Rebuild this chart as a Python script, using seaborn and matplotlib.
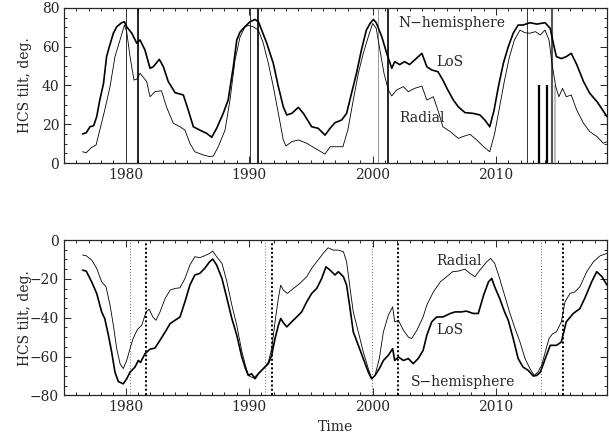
import numpy as np
import pandas as pd
import matplotlib
matplotlib.use("Agg")
import matplotlib.pyplot as plt
from matplotlib.ticker import MultipleLocator
import seaborn as sns

# ---------------- data ----------------
n_los_t = [1976.5, 1976.8, 1977.1, 1977.4, 1977.65, 1977.9, 1978.2, 1978.45, 1978.67, 1979.0, 1979.27,
           1979.67, 1979.9, 1980.08, 1980.49, 1980.9, 1981.16, 1981.56, 1981.97, 1982.24, 1982.72, 1983.05,
           1983.45, 1984.0, 1984.67, 1985.07, 1985.48, 1986.0, 1986.56, 1986.97, 1987.37, 1987.9, 1988.3,
           1988.72, 1989.0, 1989.26, 1989.53, 1989.8, 1990.07, 1990.48, 1990.75, 1991.02, 1991.43, 1991.96,
           1992.37, 1992.77, 1993.05, 1993.45, 1993.99, 1994.4, 1995.07, 1995.6, 1996.15, 1996.56, 1996.96,
           1997.5, 1997.9, 1998.3, 1998.7, 1999.1, 1999.5, 1999.8, 2000.07, 2000.3, 2000.75, 2001.15,
           2001.56, 2001.8, 2002.2, 2002.6, 2003.0, 2003.4, 2004.0, 2004.4, 2004.8, 2005.3, 2005.7, 2006.1,
           2006.55, 2006.95, 2007.5, 2008.17, 2008.7, 2009.1, 2009.5, 2009.85, 2010.2, 2010.6, 2011.0,
           2011.4, 2011.8, 2012.2, 2012.76, 2013.3, 2013.98, 2014.4, 2014.65, 2014.9, 2015.3, 2015.7,
           2016.1, 2016.55, 2017.1, 2017.6, 2018.2, 2018.65, 2019.0]
n_los_v = [15.0, 15.6, 18.7, 19.2, 23.9, 32.5, 41, 54.9, 60, 67, 70.3,
           72.4, 72.9, 70.3, 67, 61.8, 63.5, 58.3, 48.9, 49.7, 53.5, 49.7,
           42, 36.3, 35.1, 27.3, 18.7, 17, 15.3, 13.3, 17.9, 25.6, 32.5,
           49.7, 63.5, 67.5, 69.5, 71.2, 72.9, 74.1, 72.9, 68.6, 61.8, 51.4,
           39.4, 29, 24.8, 25.6, 28.7, 25.6, 18.7, 17.9, 14.4, 17.9, 20.8,
           22.2, 25.6, 36, 46.3, 58.3, 68.6, 72, 74.1, 72.4, 65.2, 56.6,
           48.9, 52.3, 50.8, 52.3, 50.8, 53.1, 56.6, 49.7, 48, 47.1, 42.8, 37.7,
           32.5, 29, 26, 25.6, 24.8, 22.2, 18.7, 27.3, 39.4, 51.4, 60,
           67, 71.2, 71.2, 72.4, 71.7, 72.4, 69.5, 61.8, 54.9, 53.9, 54.9,
           56.6, 50.8, 42, 36, 31.6, 27.3, 23.9]

n_rad_t = [1976.5, 1976.8, 1977.24, 1977.6, 1977.9, 1978.3, 1978.73, 1979.13, 1979.54, 1979.9, 1980.08,
           1980.35, 1980.67, 1980.9, 1981.16, 1981.7, 1981.97, 1982.37, 1982.9, 1983.3, 1983.86, 1984.4,
           1984.8, 1985.2, 1985.6, 1986.3, 1986.8, 1987.1, 1987.5, 1988.05, 1988.45, 1988.86, 1989.26,
           1989.67, 1989.94, 1990.34, 1990.75, 1991.15, 1991.56, 1991.96, 1992.37, 1992.77, 1992.99,
           1993.45, 1993.99, 1994.67, 1995.34, 1996.15, 1996.56, 1997.1, 1997.6, 1998.0, 1998.44, 1998.85,
           1999.25, 1999.66, 2000.01, 2000.3, 2000.6, 2000.93, 2001.28, 2001.56, 2001.96, 2002.5, 2002.9,
           2003.4, 2004.0, 2004.4, 2004.93, 2005.3, 2005.7, 2006.3, 2006.95, 2007.3, 2007.9, 2008.45,
           2009.0, 2009.5, 2009.9, 2010.3, 2010.7, 2011.1, 2011.5, 2011.95, 2012.36, 2012.76, 2013.2,
           2013.6, 2013.98, 2014.3, 2014.58, 2014.85, 2015.1, 2015.4, 2015.7, 2016.1, 2016.55, 2017.1,
           2017.6, 2018.2, 2018.7, 2019.0]
n_rad_v = [5.8, 5.3, 8.1, 9.3, 17, 27.3, 39.4, 54.9, 63.5, 71.2, 67.8,
           54.9, 42.8, 43.3, 46.3, 42, 34.2, 36.8, 37.3, 29, 20.5, 18.7,
           17, 10.2, 5.8, 4.1, 3.3, 3.6, 8.4, 17, 32.5, 53.1, 65,
           70.3, 71, 70.3, 68.6, 61.8, 51.4, 39.4, 25.6, 11.9, 8.8,
           11, 11.9, 10.2, 7.6, 4.6, 8.4, 8.4, 8.4, 17, 32.5, 46.3,
           56.6, 65.2, 72, 69.5, 58.3, 46.3, 37.7, 34.6, 37.7, 39.4, 36.8,
           38.5, 39.7, 32.5, 34.2, 27.3, 18.7, 16.2, 12.7, 13.6, 14.8, 11.9,
           8.4, 5.8, 15.3, 29, 42.8, 54.9, 63.5, 68.6, 67.2, 67, 67.8,
           66.1, 68.6, 63.5, 49.7, 39.4, 34.2, 38.5, 34.2, 35.1, 27.3, 20.5,
           16.2, 13.6, 10.2, 11]

s_los_t = [1976.5, 1976.8, 1977.24, 1977.65, 1978.05, 1978.3, 1978.6, 1978.86, 1979.13, 1979.4, 1979.8,
           1980.08, 1980.35, 1980.75, 1981.02, 1981.2, 1981.56, 1981.97, 1982.37, 1982.78, 1983.2, 1983.6,
           1984.0, 1984.4, 1984.8, 1985.2, 1985.6, 1986.0, 1986.4, 1986.8, 1987.05, 1987.37, 1987.8,
           1988.2, 1988.6, 1989.0, 1989.4, 1989.7, 1989.94, 1990.2, 1990.48, 1990.75, 1991.15, 1991.56,
           1991.83, 1992.1, 1992.37, 1992.56, 1992.77, 1993.05, 1993.45, 1993.86, 1994.26, 1994.67,
           1995.07, 1995.48, 1995.88, 1996.23, 1996.56, 1996.96, 1997.23, 1997.64, 1997.9, 1998.18,
           1998.44, 1998.85, 1999.25, 1999.66, 1999.93, 2000.2, 2000.55, 2000.88, 2001.28, 2001.63,
           2001.8, 2002.1, 2002.5, 2002.9, 2003.3, 2003.7, 2004.1, 2004.4, 2004.8, 2005.2, 2005.7,
           2006.3, 2006.7, 2007.2, 2007.6, 2008.17, 2008.57, 2009.0, 2009.4, 2009.66, 2009.9, 2010.3,
           2010.7, 2011.0, 2011.4, 2011.8, 2012.2, 2012.6, 2013.03, 2013.3, 2013.6, 2014.0, 2014.4,
           2014.9, 2015.3, 2015.7, 2016.27, 2016.8, 2017.2, 2017.76, 2018.17, 2018.6, 2019.0]
s_los_v = [-15.5, -16, -21.5, -27.5, -37, -40.4, -49, -57.6, -68, -72.8, -74,
           -71.4, -68, -65.4, -62, -63, -58.5, -56.2, -55.6, -51.6, -47.3, -43,
           -41.3, -39.6, -31.8, -23.2, -18, -17.2, -14.6, -11.2, -9.8, -12.9, -19.8,
           -30, -40.4, -49, -60, -66, -69.7, -68.8, -71.4, -68.8, -66.2, -63.6,
           -59.3, -50.7, -43.9, -40.4, -42.5, -44.7, -42.1, -39.6, -37, -31.8,
           -27.5, -24.9, -19.8, -13.8, -15.5, -18, -16.3, -18.9, -23.2, -35.3,
           -47.3, -54.2, -61, -68, -71.4, -69.7, -66.2, -62, -59.3, -55.9,
           -62, -60.2, -62, -61, -63.6, -61, -56.8, -49, -42.1, -39.6, -39.6,
           -37.8, -37, -37, -36.6, -37.8, -37.8, -28.4, -21.5, -19.8, -24.1, -30,
           -37, -41.3, -50.7, -61, -65.4, -67, -70, -69.7, -68, -61, -54.2,
           -54.2, -52.5, -42.1, -37.8, -35.3, -30, -21.5, -16.3, -18.9, -23.2]

s_rad_t = [1976.5, 1976.8, 1977.24, 1977.65, 1978.05, 1978.4, 1978.73, 1979.0, 1979.27, 1979.54, 1979.8,
           1980.08, 1980.35, 1980.6, 1980.94, 1981.3, 1981.65, 1981.9, 1982.2, 1982.45, 1982.78, 1983.2,
           1983.6, 1984.0, 1984.4, 1984.8, 1985.2, 1985.6, 1986.0, 1986.4, 1986.8, 1987.05, 1987.37,
           1987.8, 1988.2, 1988.6, 1989.0, 1989.4, 1989.7, 1989.94, 1990.34, 1990.75, 1991.15, 1991.56,
           1991.83, 1992.1, 1992.37, 1992.56, 1992.77, 1993.1, 1993.6, 1994.1, 1994.67, 1995.07, 1995.48,
           1996.0, 1996.4, 1996.8, 1997.23, 1997.64, 1997.9, 1998.18, 1998.44, 1998.85, 1999.25, 1999.66,
           1999.93, 2000.2, 2000.55, 2000.88, 2001.28, 2001.63, 2001.8, 2002.1, 2002.5, 2002.9, 2003.17,
           2003.6, 2004.1, 2004.4, 2004.93, 2005.5, 2006.0, 2006.5, 2006.95, 2007.5, 2007.9, 2008.3,
           2008.7, 2009.25, 2009.57, 2009.9, 2010.3, 2010.7, 2011.1, 2011.5, 2011.95, 2012.36, 2012.76,
           2013.1, 2013.4, 2013.7, 2014.0, 2014.3, 2014.6, 2014.9, 2015.3, 2015.6, 2016.0, 2016.4,
           2016.8, 2017.36, 2017.9, 2018.45, 2019.0]
s_rad_v = [-7.7, -8.1, -10.3, -14.6, -21.5, -24, -33.5, -43.9, -55.9, -63.6, -66.2,
           -62, -55.9, -50.7, -46.1, -43.9, -37, -35.6, -39.6, -41.3, -37, -30,
           -25.8, -24.9, -24.6, -19.8, -12.9, -8.6, -9.1, -8.1, -6.9, -5.7, -8.6,
           -12, -21.5, -33.5, -43.9, -57, -64.5, -69.7, -71, -68.8, -66.2, -62.8,
           -55.9, -42.1, -30, -23.2, -25.8, -27.5, -24.9, -22.4, -18.9, -14.6, -11.2,
           -6.9, -4, -5.2, -5.2, -6, -11.2, -24.9, -37, -47.3, -57.6, -66.2,
           -71.4, -69.7, -61, -47.3, -38.7, -34.4, -42.1, -41.3, -46.4, -49.9, -50.7,
           -46.4, -39.6, -33.5, -26.7, -21.5, -18.9, -16.3, -16, -15, -17.2, -18.9,
           -15.5, -11.2, -9.5, -12, -19.8, -28.4, -37, -44.7, -52.5, -61, -66.2,
           -69.7, -68, -64.5, -57.6, -50.7, -48.2, -47.3, -42.1, -31.8, -27.5, -26.7,
           -24.1, -16.3, -11.2, -8.1, -6.9]

# vertical markers (years)
n_thin_black = [1980.0, 1990.1, 2012.55]
n_thin_grey = [2000.47]
n_thick_black = [1981.02, 1990.75, 2001.28]
n_thick_grey = [2014.55]
n_short_black = [2013.52, 2014.14]
n_short_grey = [2014.77]
n_short_top = 40

s_thin_dotted = [1980.32, 1991.29, 1999.93, 2013.65]
s_thick_dotted = [1981.65, 1991.88, 2002.04, 2015.44]

x_ticks = [1980, 1990, 2000, 2010]
n_yticks = [0, 20, 40, 60, 80]
s_yticks = [-80, -60, -40, -20, 0]

# ---------------- plotting ----------------
sns.set_style("ticks")
plt.rcParams['font.family'] = ['DejaVu Serif']
plt.rcParams['font.size'] = 9

fig = plt.figure(figsize=(6.09, 4.37), dpi=100)
ax1 = fig.add_axes([0.1051, 0.627, 0.8916, 0.3547])
ax2 = fig.add_axes([0.1051, 0.0950, 0.8916, 0.3558])

df_nl = pd.DataFrame({"t": n_los_t, "v": n_los_v})
df_nr = pd.DataFrame({"t": n_rad_t, "v": n_rad_v})
df_sl = pd.DataFrame({"t": s_los_t, "v": s_los_v})
df_sr = pd.DataFrame({"t": s_rad_t, "v": s_rad_v})

LW_THICK = 1.2
LW_THIN = 0.6

# North
for x in n_thin_black:
    ax1.axvline(x, color="#333333", lw=0.7, zorder=1)
for x in n_thin_grey:
    ax1.axvline(x, color="#999999", lw=0.7, zorder=1)
for x in n_thick_black:
    ax1.axvline(x, color="black", lw=1.2, zorder=1)
for x in n_thick_grey:
    ax1.axvline(x, color="#555555", lw=1.5, zorder=1)
ax1.vlines(n_short_black, 0, n_short_top, color="black", lw=1.6, zorder=1)
ax1.vlines(n_short_grey, 0, n_short_top, color="#aaaaaa", lw=1.1, zorder=1)

sns.lineplot(data=df_nl, x="t", y="v", ax=ax1, color="black", lw=LW_THICK, estimator=None)
sns.lineplot(data=df_nr, x="t", y="v", ax=ax1, color="black", lw=LW_THIN, estimator=None)

ax1.text(2002.07, 72.3, "N\u2212hemisphere", va="center", ha="left", fontsize=10)
ax1.text(2005.2, 52.3, "LoS", va="center", ha="left", fontsize=10)
ax1.text(2002.15, 23.2, "Radial", va="center", ha="left", fontsize=10)

# South
for x in s_thin_dotted:
    ax2.axvline(x, color="#666666", lw=0.7, ls=(0, (1, 2)), zorder=1)
for x in s_thick_dotted:
    ax2.axvline(x, color="black", lw=1.4, ls=(0, (1, 1.2)), zorder=1)

sns.lineplot(data=df_sl, x="t", y="v", ax=ax2, color="black", lw=LW_THICK, estimator=None)
sns.lineplot(data=df_sr, x="t", y="v", ax=ax2, color="black", lw=LW_THIN, estimator=None)

ax2.text(2005.15, -11, "Radial", va="center", ha="left", fontsize=10)
ax2.text(2005.2, -46.3, "LoS", va="center", ha="left", fontsize=10)
ax2.text(2003.1, -73.3, "S\u2212hemisphere", va="center", ha="left", fontsize=10)

for ax, yt, ylim in [(ax1, n_yticks, (0, 80)), (ax2, s_yticks, (-80, 0))]:
    ax.set_xlim(1975, 2019)
    ax.set_ylim(*ylim)
    ax.set_xticks(x_ticks)
    ax.set_yticks(yt)
    ax.xaxis.set_minor_locator(MultipleLocator(1))
    ax.yaxis.set_minor_locator(MultipleLocator(5))
    ax.tick_params(which="both", direction="in", top=True, right=True, width=0.7)
    ax.tick_params(which="major", length=5, labelsize=10)
    ax.tick_params(which="minor", length=2.5)
    for s in ax.spines.values():
        s.set_linewidth(0.9)
        s.set_visible(True)
    ax.set_ylabel("HCS tilt, deg.", fontsize=10)
    ax.yaxis.set_label_coords(-0.059, 0.5)
    ax.set_xlabel("")

ax1.set_yticklabels([str(v) for v in n_yticks])
ax2.set_yticklabels([("\u2212" + str(-v)) if v < 0 else str(v) for v in s_yticks])
ax2.set_xlabel("Time", fontsize=10)

fig.savefig("out.png", dpi=100)
